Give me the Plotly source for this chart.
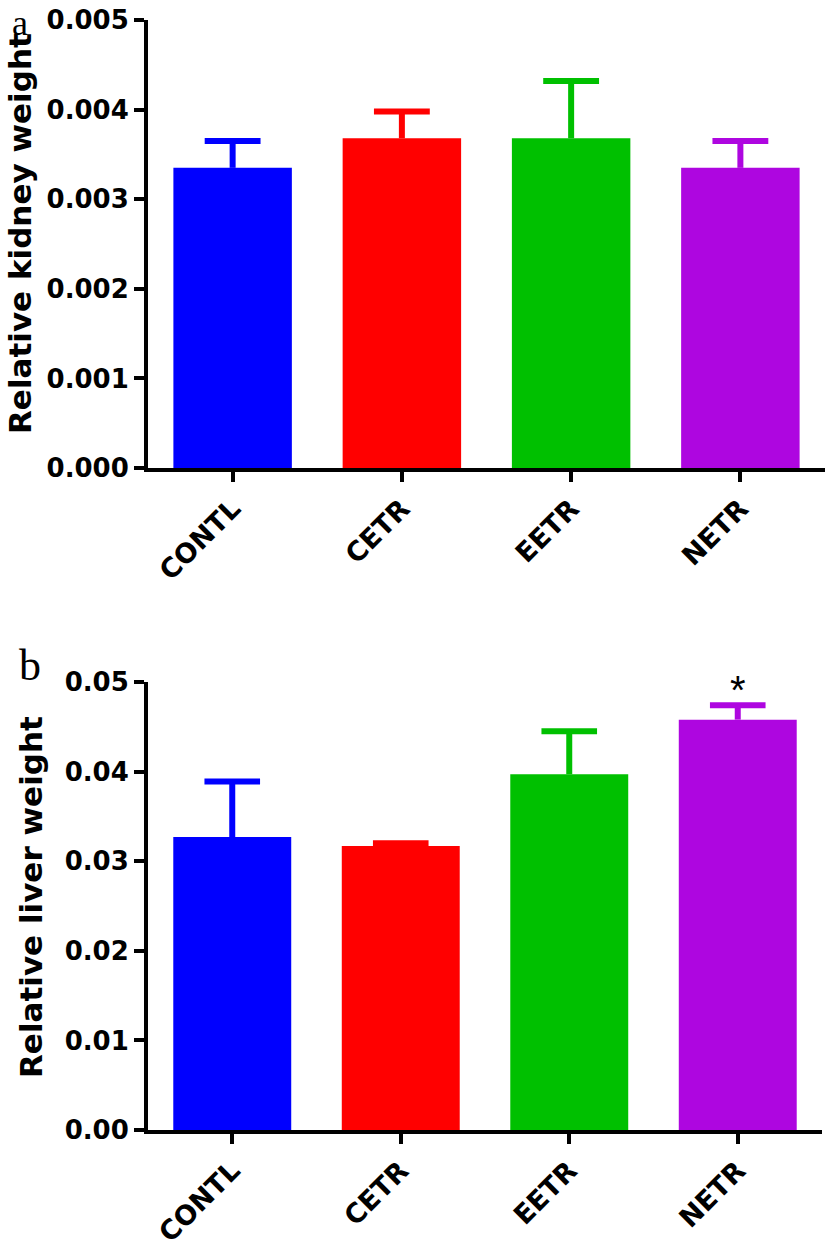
import plotly.graph_objects as go
from plotly.subplots import make_subplots

groups = ["CONTL", "CETR", "EETR", "NETR"]
bar_colors = ["#0000FF", "#FF0000", "#00C000", "#AE06E0"]

kidney_mean = [0.00335, 0.00368, 0.00368, 0.00335]
kidney_sem = [0.00030, 0.00030, 0.00064, 0.00030]

liver_mean = [0.0327, 0.0317, 0.0397, 0.0458]
liver_sem = [0.0062, 0.0003, 0.0048, 0.0016]

kidney_ticks = [0.000, 0.001, 0.002, 0.003, 0.004, 0.005]
liver_ticks = [0.00, 0.01, 0.02, 0.03, 0.04, 0.05]

Y_TICK_FONT = dict(family="DejaVu Sans", size=26, color="#000000", weight="bold")
X_TICK_FONT = dict(family="DejaVu Sans", size=27, color="#000000", weight="bold")
TITLE_FONT = dict(family="DejaVu Sans", size=31, color="#000000", weight="bold")

PLOT_L, PLOT_T = 148, 20
PLOT_W, PLOT_H = 677, 1110


def add_panel(fig, row, means, sems):
    xs = list(range(len(groups)))
    fig.add_trace(
        go.Bar(
            x=xs,
            y=means,
            width=0.7,
            marker=dict(color=bar_colors, line=dict(width=0)),
            showlegend=False,
        ),
        row=row,
        col=1,
    )
    # upper-only error bars: stem plus cap, no shoe on the bar top
    for i, (m, s) in enumerate(zip(means, sems)):
        fig.add_trace(
            go.Scatter(
                x=[i, i, None, i - 0.165, i + 0.165],
                y=[m, m + s, None, m + s, m + s],
                mode="lines",
                line=dict(color=bar_colors[i], width=6),
                hoverinfo="skip",
                showlegend=False,
            ),
            row=row,
            col=1,
        )


fig = make_subplots(rows=2, cols=1, vertical_spacing=0.1928)
add_panel(fig, 1, kidney_mean, kidney_sem)
add_panel(fig, 2, liver_mean, liver_sem)

h_frac = 448 / PLOT_H
axis_common = dict(
    showline=True,
    linecolor="#000000",
    linewidth=4,
    ticks="outside",
    ticklen=10,
    tickwidth=4,
    tickcolor="#000000",
    showgrid=False,
    zeroline=False,
    automargin=False,
    ticklabeloverflow="allow",
)
x_common = dict(
    **axis_common,
    range=[-0.5, 3.5],
    tickvals=list(range(len(groups))),
    ticktext=groups,
    tickangle=-45,
    tickfont=X_TICK_FONT,
)

fig.update_layout(
    width=826,
    height=1248,
    paper_bgcolor="#ffffff",
    plot_bgcolor="#ffffff",
    margin=dict(l=PLOT_L, r=826 - PLOT_L - PLOT_W, t=PLOT_T, b=1248 - PLOT_T - PLOT_H),
    xaxis=dict(**x_common),
    xaxis2=dict(**x_common, domain=[0, 674 / PLOT_W]),
    yaxis=dict(
        **axis_common,
        domain=[1 - h_frac, 1],
        range=[0, 0.005],
        tickvals=kidney_ticks,
        tickformat=".3f",
        tickfont=Y_TICK_FONT,
    ),
    yaxis2=dict(
        **axis_common,
        domain=[0, h_frac],
        range=[0, 0.05],
        tickvals=liver_ticks,
        tickformat=".2f",
        tickfont=Y_TICK_FONT,
    ),
)


def px_x(page_x):
    return (page_x - PLOT_L) / PLOT_W


def px_y(page_y):
    return 1 - (page_y - PLOT_T) / PLOT_H


# y axis titles
fig.add_annotation(
    text="Relative kidney weight", xref="paper", yref="paper",
    x=px_x(20), y=px_y(234), textangle=-90,
    showarrow=False, font=TITLE_FONT, xanchor="center", yanchor="middle",
)
fig.add_annotation(
    text="Relative liver weight", xref="paper", yref="paper",
    x=px_x(31), y=px_y(897), textangle=-90,
    showarrow=False, font=TITLE_FONT, xanchor="center", yanchor="middle",
)

# panel letters
fig.add_annotation(
    text="a", xref="paper", yref="paper", x=px_x(20), y=px_y(1),
    showarrow=False, font=dict(family="Liberation Serif", size=36, color="#000000"),
    xanchor="center", yanchor="top",
)
fig.add_annotation(
    text="b", xref="paper", yref="paper", x=px_x(30), y=px_y(665),
    showarrow=False, font=dict(family="Liberation Serif", size=44, color="#000000"),
    xanchor="center", yanchor="middle",
)

# significance mark above NETR
fig.add_annotation(
    text="*", x=3, y=liver_mean[3] + liver_sem[3], xref="x2", yref="y2",
    yshift=15, showarrow=False,
    font=dict(family="Liberation Sans", size=40, color="#000000"),
)

# drop the browser's default body margin so the figure sits at the page corner
fig.write_html(
    "out.html",
    config={"displayModeBar": False},
    post_script="document.body.style.margin='0';",
)
